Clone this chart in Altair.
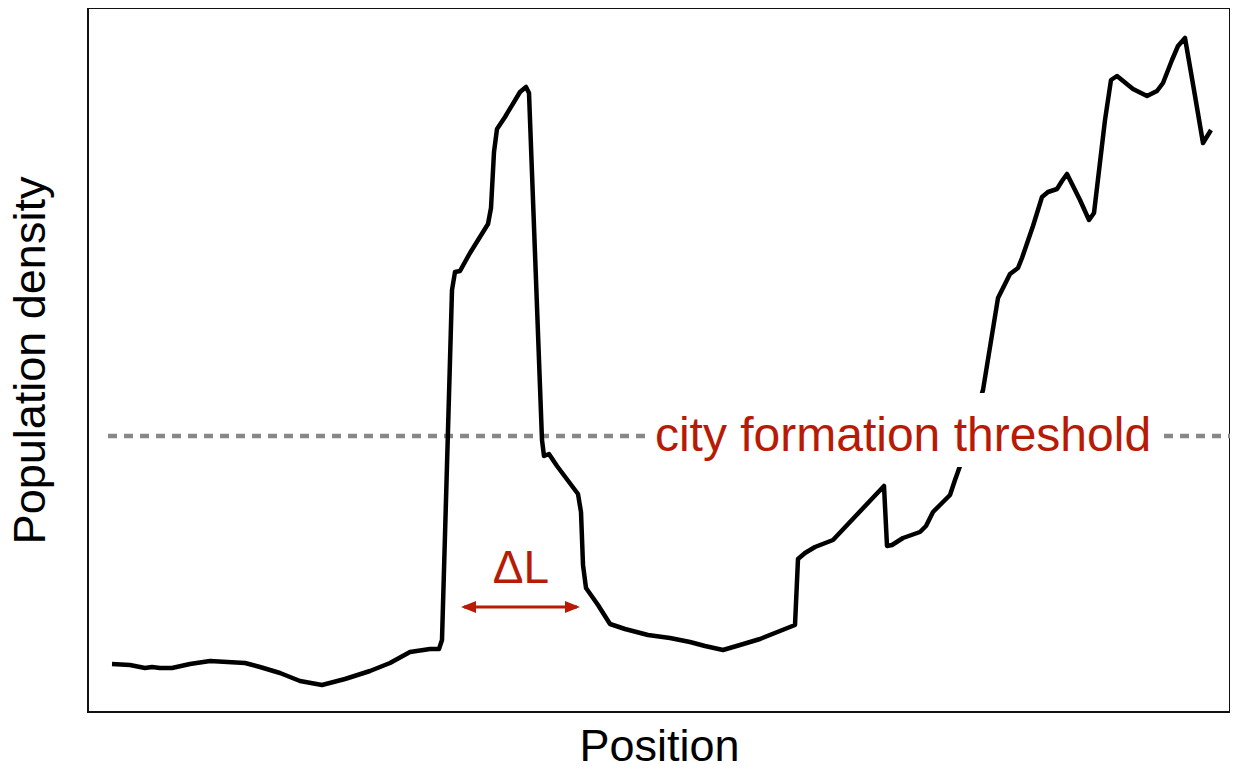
import altair as alt
import pandas as pd

# Population density profile (arbitrary units)
position = [24, 42, 57, 64, 72, 84, 102, 122, 157, 172, 192, 212, 234, 257, 282, 302, 322, 342, 351, 354,
            364, 367, 372, 382, 400, 403, 406, 409, 417, 432, 438, 441, 454, 456, 461, 469, 490, 493, 495, 498,
            510, 522, 537, 560, 582, 602, 617, 635, 652, 672, 707, 710, 717, 727, 745, 796, 799, 804, 815, 832,
            838, 845, 852, 862, 867, 872, 895, 910, 915, 922, 930, 934, 945, 954, 960, 969, 974, 979, 992, 1001,
            1006, 1017, 1023, 1029, 1045, 1059, 1069, 1075, 1084, 1090, 1097, 1106, 1115, 1123]
density = [48, 47, 44, 45, 44, 44, 48, 51, 49, 45, 39, 31, 27, 33, 41, 49, 60, 63, 63, 72,
           422, 440, 441, 459, 488, 504, 560, 583, 595, 620, 625, 619, 272, 256, 258, 246, 218, 200, 147, 124,
           107, 88, 83, 77, 74, 70, 66, 62, 67, 73, 87, 153, 159, 165, 172, 226, 166, 167, 174, 180,
           186, 200, 207, 217, 232, 246, 322, 414, 424, 438, 444, 454, 486, 515, 520, 523, 531, 538, 512, 492,
           499, 592, 632, 636, 623, 616, 621, 629, 652, 666, 674, 622, 569, 582]

threshold = 276
x_min, x_max = 0, 1142
y_min, y_max = 0, 704

label_text = ["city formation threshold"]
label_x = [815]
label_y = [261]
box_x = [560]
box_x2 = [1069]
box_y = [245]
box_y2 = [319]

dl_text = ["ΔL"]
dl_x = [433]
dl_y = [129]
arrow_x = [376]
arrow_x2 = [489]
arrow_y = [105]
head_left_x = [380.5]
head_right_x = [484.5]

RED = "#b81b05"
FONT = "Liberation Sans"

df = pd.DataFrame({"position": position, "density": density})
xs = alt.Scale(domain=[x_min, x_max], nice=False, zero=False)
ys = alt.Scale(domain=[y_min, y_max], nice=False, zero=False)

xax = alt.Axis(title="Position", labels=False, ticks=False, domain=False, grid=False,
               titleFontSize=45, titleFont=FONT, titleFontWeight="normal", titleColor="black",
               titlePadding=12)
yax = alt.Axis(title="Population density", labels=False, ticks=False, domain=False, grid=False,
               titleFontSize=45, titleFont=FONT, titleFontWeight="normal", titleColor="black",
               titlePadding=35)

thr_df = pd.DataFrame({"x": [20], "x2": [x_max], "y": [threshold]})
thr = alt.Chart(thr_df).mark_rule(color="#888888", strokeWidth=4.5, strokeDash=[9, 7]).encode(
    x=alt.X("x:Q", scale=xs, axis=xax), x2="x2:Q", y=alt.Y("y:Q", scale=ys, axis=yax))

line = alt.Chart(df).mark_line(color="black", strokeWidth=4.5, strokeJoin="round").encode(
    x=alt.X("position:Q", scale=xs), y=alt.Y("density:Q", scale=ys))

box_df = pd.DataFrame({"x": box_x, "x2": box_x2, "y": box_y, "y2": box_y2})
box = alt.Chart(box_df).mark_rect(color="white").encode(
    x=alt.X("x:Q", scale=xs), x2="x2:Q", y=alt.Y("y:Q", scale=ys), y2="y2:Q")

lab_df = pd.DataFrame({"t": label_text, "x": label_x, "y": label_y})
lab = alt.Chart(lab_df).mark_text(font=FONT, fontSize=48, color=RED, align="center",
                                  baseline="alphabetic").encode(
    x=alt.X("x:Q", scale=xs), y=alt.Y("y:Q", scale=ys), text="t:N")

dl_df = pd.DataFrame({"t": dl_text, "x": dl_x, "y": dl_y})
dl = alt.Chart(dl_df).mark_text(font=FONT, fontSize=46, color=RED, align="center",
                                baseline="alphabetic").encode(
    x=alt.X("x:Q", scale=xs), y=alt.Y("y:Q", scale=ys), text="t:N")

arr_df = pd.DataFrame({"x": arrow_x, "x2": arrow_x2, "y": arrow_y})
shaft = alt.Chart(arr_df).mark_rule(color=RED, strokeWidth=3).encode(
    x=alt.X("x:Q", scale=xs), x2="x2:Q", y=alt.Y("y:Q", scale=ys))

hl_df = pd.DataFrame({"x": head_left_x, "y": arrow_y})
hr_df = pd.DataFrame({"x": head_right_x, "y": arrow_y})
head_l = alt.Chart(hl_df).mark_point(shape="M-1,0L1,-0.8L1,0.8Z", filled=True, color=RED,
                                     size=225, opacity=1).encode(
    x=alt.X("x:Q", scale=xs), y=alt.Y("y:Q", scale=ys))
head_r = alt.Chart(hr_df).mark_point(shape="M1,0L-1,-0.8L-1,0.8Z", filled=True, color=RED,
                                     size=225, opacity=1).encode(
    x=alt.X("x:Q", scale=xs), y=alt.Y("y:Q", scale=ys))

chart = alt.layer(thr, line, box, lab, dl, shaft, head_l, head_r).properties(
    width=1142, height=704,
    background="white",
    autosize=alt.AutoSizeParams(type="none"),
    padding={"left": 80, "top": 0, "right": 0, "bottom": 59},
).configure_view(stroke="#111111", strokeWidth=2)

chart.save("out.html", embed_options={"renderer": "svg", "actions": False})
